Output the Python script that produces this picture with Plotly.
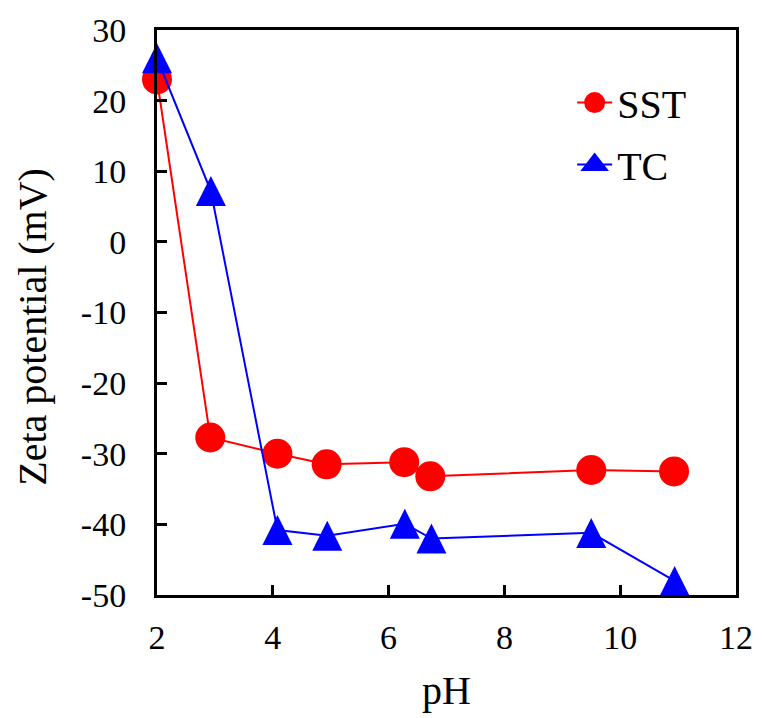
import plotly.graph_objects as go

# Zeta potential vs pH for the two samples
ph_sst = [2.0, 2.92, 4.08, 4.93, 6.27, 6.72, 9.50, 10.93]
zeta_sst = [23.0, -27.7, -30.0, -31.5, -31.2, -33.2, -32.3, -32.5]

ph_tc = [2.0, 2.93, 4.08, 4.94, 6.28, 6.74, 9.50, 10.94]
zeta_tc = [26.0, 7.2, -40.8, -41.6, -39.9, -42.0, -41.2, -48.0]

x_ticks = [2, 4, 6, 8, 10, 12]
y_ticks = [30, 20, 10, 0, -10, -20, -30, -40, -50]
y_tick_text = [str(v) for v in y_ticks]

RED, BLUE = "#FF0000", "#0000FF"
FONT = "Liberation Serif"
W, H = 765, 718
M_L, M_R, M_T, M_B = 157, 23, 29, 121
Y_MIN, Y_MAX = -50, 30

# Upward triangles use the "arrow-up" symbol, whose tip sits on the point;
# lift it by half its height so each triangle is centred on its value.
TRI = 30
units_per_px = (Y_MAX - Y_MIN) / (H - M_T - M_B)
tri_y = [v + TRI / 2 * units_per_px for v in zeta_tc]

fig = go.Figure()
fig.add_trace(go.Scatter(
    x=ph_sst, y=zeta_sst, name="SST", mode="lines+markers",
    line=dict(color=RED, width=2),
    marker=dict(symbol="circle", size=30, color=RED),
    legendgroup="sst", showlegend=False, cliponaxis=False,
))
fig.add_trace(go.Scatter(
    x=ph_tc, y=zeta_tc, name="TC", mode="lines",
    line=dict(color=BLUE, width=2),
    legendgroup="tc", showlegend=False, cliponaxis=False,
))
fig.add_trace(go.Scatter(
    x=ph_tc, y=tri_y, name="TC", mode="markers",
    marker=dict(symbol="arrow-up", size=TRI, color=BLUE),
    legendgroup="tc", showlegend=False, hoverinfo="skip", cliponaxis=False,
))

# legend entries (outlined so the legend glyphs come out larger)
fig.add_trace(go.Scatter(
    x=[None], y=[None], name="SST", mode="lines+markers",
    line=dict(color=RED, width=2),
    marker=dict(symbol="circle", size=16, color=RED, line=dict(color=RED, width=5)),
    legendgroup="sst",
))
fig.add_trace(go.Scatter(
    x=[None], y=[None], name="TC", mode="lines+markers",
    line=dict(color=BLUE, width=2),
    marker=dict(symbol="triangle-up", size=16, color=BLUE, line=dict(color=BLUE, width=5)),
    legendgroup="tc",
))

axis_common = dict(
    showline=True, linecolor="black", linewidth=3, mirror=True,
    ticks="inside", ticklen=10, tickwidth=3, tickcolor="black",
    showgrid=False, zeroline=False,
    tickfont=dict(family=FONT, size=34, color="black"),
)

fig.update_layout(
    width=W, height=H,
    margin=dict(l=M_L, r=M_R, t=M_T, b=M_B),
    paper_bgcolor="white", plot_bgcolor="white",
    font=dict(family=FONT, size=34, color="black"),
    xaxis=dict(range=[2, 12], tickvals=x_ticks, ticklabelstandoff=10,
               title=dict(text="pH", font=dict(family=FONT, size=40), standoff=22),
               **axis_common),
    yaxis=dict(range=[Y_MIN, Y_MAX], tickvals=y_ticks, ticktext=y_tick_text,
               ticklabelstandoff=21, **axis_common),
    annotations=[dict(
        text="Zeta potential (mV)", textangle=-90,
        xref="paper", yref="paper", x=-0.214, y=0.475,
        xanchor="center", yanchor="middle", showarrow=False,
        font=dict(family=FONT, size=40, color="black"),
    )],
    legend=dict(x=0.717, y=0.929, xanchor="left", yanchor="top",
                bgcolor="rgba(0,0,0,0)", tracegroupgap=7, itemwidth=35,
                font=dict(family=FONT, size=40)),
    showlegend=True,
)

fig.write_html("out.html")
